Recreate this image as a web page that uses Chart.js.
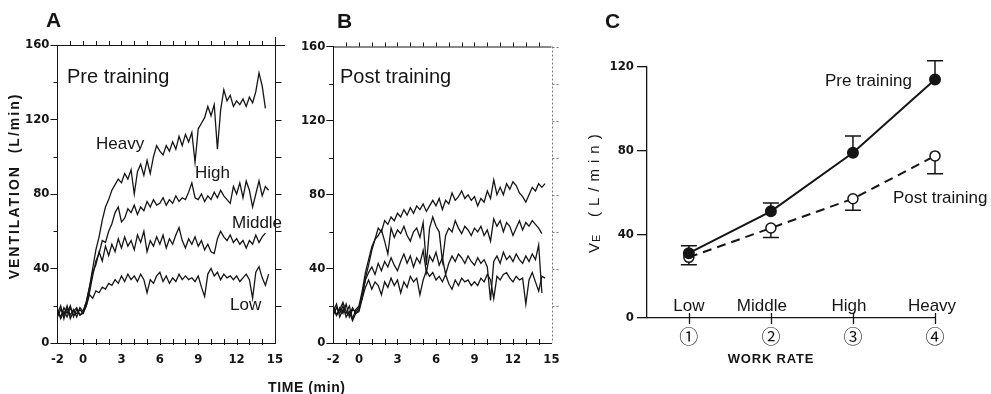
<!DOCTYPE html>
<html><head><meta charset="utf-8">
<script src="https://cdn.jsdelivr.net/npm/chart.js@4.4.1/dist/chart.umd.min.js"></script>
<style>
html,body{margin:0;padding:0;background:#fff;}
#wrap{position:relative;width:991px;height:394px;overflow:hidden;background:#fff;}
canvas{position:absolute;left:0;top:0;}
</style></head><body>
<div id="wrap">
<canvas id="cA" width="991" height="394" style="width:991px;height:394px"></canvas>
<canvas id="cB" width="991" height="394" style="width:991px;height:394px"></canvas>
<canvas id="cC" width="991" height="394" style="width:991px;height:394px"></canvas>
</div>
<script>
// ---------- DATA ----------
const timeMin = [-2,-1.75,-1.5,-1.25,-1,-0.75,-0.5,-0.25,0,0.25,0.5,0.75,
  1,1.25,1.5,1.75,2,2.25,2.5,2.75,3,3.25,3.5,3.75,
  4,4.25,4.5,4.75,5,5.25,5.5,5.75,6,6.25,6.5,6.75,
  7,7.25,7.5,7.75,8,8.25,8.5,8.75,9,9.25,9.5,9.75,
  10,10.25,10.5,10.75,11,11.25,11.5,11.75,12,12.25,12.5,12.75,
  13,13.25,13.5,13.75,14,14.25,14.5];
const timeTickLabels = [-2,0,3,6,9,12,15];
const ventTickLabels = [0,40,80,120,160];

// Panel A: pre training
const preHeavy = [16,20,13,19,15,18,14,19,17,22,30,40,
  50,57,66,73,77,82,85,88,86,91,88,93,
  80,92,96,90,98,91,100,106,103,101,106,103,
  108,104,111,106,112,108,113,97,115,118,121,127,
  122,128,104,125,136,130,133,127,130,128,131,127,
  132,129,135,145,138,126,null];
const preHigh = [17,14,19,16,20,14,18,15,16,20,27,36,
  44,48,55,54,60,64,70,73,65,67,72,70,
  74,69,73,71,76,73,77,74,75,78,74,77,
  75,79,76,78,77,81,86,78,77,80,76,79,
  77,81,78,82,79,77,75,84,80,86,78,87,
  82,73,80,87,79,84,82];
const preMiddle = [14,18,15,20,13,17,19,15,17,22,30,38,
  42,49,44,52,47,53,49,56,51,57,52,55,
  50,58,54,60,49,55,52,57,53,58,51,56,
  53,58,62,55,51,56,53,57,52,55,50,53,
  49,48,56,60,57,55,58,54,56,53,55,51,
  55,53,58,54,57,59,null];
const preLow = [18,13,17,14,19,15,16,18,16,20,26,24,
  28,27,30,29,32,31,34,32,36,33,37,34,
  36,33,37,34,27,34,32,36,38,33,36,32,
  35,33,37,34,36,34,35,33,36,30,25,37,
  40,36,38,34,37,35,36,34,36,33,35,37,
  34,24,38,41,35,31,37];

// Panel B: post training
const postHeavy = [20,15,19,16,21,14,18,17,19,24,35,42,
  50,56,62,60,66,64,68,66,70,68,72,69,
  73,70,74,72,75,71,74,77,74,78,72,77,
  75,81,77,79,82,78,80,77,79,74,78,76,
  82,78,88,80,84,80,86,83,87,85,81,79,
  76,80,84,82,86,84,86];
const postHigh = [17,21,14,18,16,20,13,18,20,28,38,45,
  52,56,58,61,55,48,62,57,61,59,63,58,
  55,60,62,57,65,42,62,68,63,60,44,58,
  62,60,66,62,59,63,61,58,62,60,63,58,
  61,55,67,63,66,60,65,63,58,62,66,61,
  65,63,66,64,62,59,null];
const postMiddle = [15,19,16,20,14,17,12,16,18,26,34,38,
  41,37,43,39,44,41,46,42,39,44,48,43,
  47,41,46,43,50,38,47,44,49,42,46,37,
  43,47,44,48,46,43,47,44,42,46,43,45,
  41,23,44,47,43,49,45,47,44,48,45,43,
  47,44,48,45,53,27,null];
const postLow = [19,15,18,22,17,15,19,16,17,24,30,34,
  29,33,31,26,33,30,35,31,34,27,33,30,
  36,33,35,26,34,39,36,38,34,36,33,37,
  32,29,34,31,35,33,34,31,33,31,35,33,
  37,34,24,36,34,37,38,35,33,36,34,35,
  21,34,38,33,28,36,35];

// Panel C: mean VE by work rate
const workRateNames = ['Low','Middle','High','Heavy'];
const workRateIds = [1,2,3,4];
const workRateMarks = ['\u2460','\u2461','\u2462','\u2463'];
const veTickLabels = [0,40,80,120];
const vePre = [31,51,79,114];
const vePreErrTop = [34.5,55,87,123];
const vePost = [29,43,57,77.5];
const vePostErrBottom = [25.5,38.5,51.5,69];

// ---------- STYLE ----------
const INK = '#151515';
const SANS = "'Liberation Sans', Arial, sans-serif";
const NARROW = "'Liberation Sans Narrow', 'DejaVu Sans Condensed', 'Liberation Sans', sans-serif";
const tickFont = {family: NARROW, size: 13, weight: 'bold'};

function traces(series) {
  return series.map(vals => ({
    data: timeMin.map((t, i) => ({x: t, y: vals[i]})).filter(p => p.y !== null),
    borderColor: INK, borderWidth: 1.3, pointRadius: 0, fill: false, tension: 0
  }));
}

const frame = {
  id: 'frame',
  afterDraw(chart, args, o) {
    const {ctx, chartArea: a, scales: {x, y}} = chart;
    ctx.save();
    ctx.strokeStyle = INK; ctx.lineWidth = 1;
    ctx.beginPath();
    ctx.moveTo(a.left, a.top + 0.5); ctx.lineTo(a.right + o.topExtend, a.top + 0.5);
    for (let t = x.min + 1; t < x.max; t++) {
      const px = Math.round(x.getPixelForValue(t)) + 0.5;
      ctx.moveTo(px, a.top); ctx.lineTo(px, a.top - 4);
      ctx.moveTo(px, a.bottom - 4); ctx.lineTo(px, a.bottom + 2);
    }
    for (let v = 20; v < 160; v += 40) {
      const py = Math.round(y.getPixelForValue(v)) + 0.5;
      ctx.moveTo(a.left, py); ctx.lineTo(a.left - 4, py);
    }
    ctx.stroke();
    ctx.beginPath();
    if (o.rightDash) { ctx.setLineDash([2, 2]); ctx.strokeStyle = '#777'; }
    const rx = Math.round(a.right) + 0.5;
    ctx.moveTo(rx, a.top - o.rightUp); ctx.lineTo(rx, a.bottom);
    for (let v = 20; v <= 160; v += 20) {
      const py = Math.round(y.getPixelForValue(v)) + 0.5;
      ctx.moveTo(rx, py); ctx.lineTo(rx + 6, py);
    }
    ctx.stroke();
    ctx.restore();
  }
};

function traceChart(id, series, pad, o) {
  return new Chart(document.getElementById(id), {
    type: 'line',
    data: {datasets: traces(series)},
    options: {
      responsive: false, animation: false, devicePixelRatio: 1,
      layout: {padding: pad},
      plugins: {legend: {display: false}, tooltip: {enabled: false}, frame: o},
      scales: {
        x: {
          type: 'linear', min: -2, max: 15,
          afterBuildTicks: s => { s.ticks = timeTickLabels.map(v => ({value: v})); },
          afterFit: s => { s.height = 30; },
          ticks: {font: tickFont, color: INK, padding: 9, maxRotation: 0, autoSkip: false},
          grid: {drawOnChartArea: false, drawTicks: false},
          border: {display: true, color: INK, width: 1}
        },
        y: {
          min: 0, max: 160,
          afterBuildTicks: s => { s.ticks = ventTickLabels.map(v => ({value: v})); },
          afterFit: s => { s.width = 40; },
          ticks: {font: tickFont, color: INK, padding: 1},
          grid: {drawOnChartArea: false, drawTicks: true, tickLength: 7, color: INK},
          border: {display: true, color: INK, width: 1}
        }
      }
    },
    plugins: [frame]
  });
}

traceChart('cA', [preHeavy, preHigh, preMiddle, preLow],
  {left: 17.5, right: 716, top: 45, bottom: 21}, {topExtend: 10, rightUp: 8, rightDash: false});
traceChart('cB', [postHeavy, postHigh, postMiddle, postLow],
  {left: 293.3, right: 439.5, top: 46.5, bottom: 21}, {topExtend: 0, rightUp: 0, rightDash: true});

// ---------- Panel C ----------
const errBars = {
  id: 'errBars',
  beforeDatasetsDraw(chart) {
    const {ctx, scales: {x, y}} = chart;
    ctx.save(); ctx.strokeStyle = INK; ctx.lineWidth = 1.5;
    ctx.beginPath();
    workRateIds.forEach((w, i) => {
      const px = x.getPixelForValue(w);
      const a = y.getPixelForValue(vePre[i]), b = y.getPixelForValue(vePreErrTop[i]);
      ctx.moveTo(px, a); ctx.lineTo(px, b); ctx.moveTo(px - 8, b); ctx.lineTo(px + 8, b);
      const c = y.getPixelForValue(vePost[i]), d = y.getPixelForValue(vePostErrBottom[i]);
      ctx.moveTo(px, c); ctx.lineTo(px, d); ctx.moveTo(px - 8, d); ctx.lineTo(px + 8, d);
    });
    ctx.stroke(); ctx.restore();
  },
  afterDraw(chart) {
    const {ctx, chartArea: a, scales: {x}} = chart;
    ctx.save(); ctx.strokeStyle = INK; ctx.lineWidth = 1.3;
    ctx.beginPath();
    workRateIds.forEach(w => {
      const px = Math.round(x.getPixelForValue(w)) + 0.5;
      ctx.moveTo(px, a.bottom - 5); ctx.lineTo(px, a.bottom + 6);
    });
    ctx.stroke();
    ctx.fillStyle = INK; ctx.font = '17px ' + SANS; ctx.textAlign = 'center'; ctx.textBaseline = 'alphabetic';
    const nudge = [0, -9, -4, -3];
    workRateIds.forEach((w, i) => ctx.fillText(workRateNames[i], x.getPixelForValue(w) + nudge[i], a.bottom - 7));
    ctx.restore();
  }
};

function rotText(ctx, txt, cx, cy, font, spacing) {
  ctx.save(); ctx.translate(cx, cy); ctx.rotate(-Math.PI / 2);
  ctx.font = font; ctx.letterSpacing = spacing + 'px';
  ctx.textAlign = 'center'; ctx.textBaseline = 'middle';
  ctx.fillText(txt, spacing / 2, 0); ctx.restore();
}

const annotations = {
  id: 'annotations',
  afterDraw(chart) {
    const ctx = chart.ctx;
    ctx.save(); ctx.fillStyle = INK; ctx.textBaseline = 'alphabetic'; ctx.textAlign = 'left';
    ctx.font = 'bold 21px ' + SANS;
    ctx.fillText('A', 46, 27); ctx.fillText('B', 337, 28); ctx.fillText('C', 605, 28);
    ctx.font = '20px ' + SANS;
    ctx.fillText('Pre training', 67, 83);
    ctx.fillText('Post training', 340, 83);
    ctx.font = '17px ' + SANS;
    ctx.fillText('Heavy', 96, 149);
    ctx.fillText('High', 195, 178);
    ctx.fillText('Middle', 232, 228);
    ctx.fillText('Low', 230, 310);
    ctx.fillText('Pre training', 825, 86);
    ctx.fillText('Post training', 893, 203);
    ctx.font = 'bold 14px ' + SANS; ctx.letterSpacing = '0.6px';
    ctx.fillText('TIME (min)', 268, 392);
    ctx.font = 'bold 13px ' + SANS; ctx.letterSpacing = '0.8px'; ctx.textAlign = 'center';
    ctx.fillText('WORK RATE', 771, 363);
    ctx.letterSpacing = '0px';
    ctx.restore();
    rotText(ctx, 'VENTILATION  (L/min)', 15, 187, 'bold 14px ' + SANS, 2);
    ctx.save(); ctx.translate(595, 253); ctx.rotate(-Math.PI / 2);
    ctx.fillStyle = INK; ctx.textBaseline = 'middle'; ctx.textAlign = 'left';
    ctx.font = '15px ' + SANS; ctx.fillText('V', 0, 0);
    ctx.font = '11px ' + SANS; ctx.fillText('E', 11, 2);
    ctx.font = '15px ' + SANS; ctx.letterSpacing = '6px'; ctx.fillText('(L/min)', 36, 0);
    ctx.restore();
  }
};

new Chart(document.getElementById('cC'), {
  type: 'line',
  data: {
    datasets: [
      {label: 'Pre training', data: workRateIds.map((w, i) => ({x: w, y: vePre[i]})), clip: false,
       borderColor: INK, borderWidth: 2, pointRadius: 5, pointBackgroundColor: INK, pointBorderColor: INK, tension: 0},
      {label: 'Post training', data: workRateIds.map((w, i) => ({x: w, y: vePost[i]})), clip: false,
       borderColor: INK, borderWidth: 2, borderDash: [9, 6], pointRadius: 5, pointBackgroundColor: '#fff',
       pointBorderColor: INK, pointBorderWidth: 1.5, tension: 0}
    ]
  },
  options: {
    responsive: false, animation: false, devicePixelRatio: 1,
    layout: {padding: {left: 602, right: 56, top: 67, bottom: 36}},
    plugins: {legend: {display: false}, tooltip: {enabled: false}},
    scales: {
      x: {
        type: 'linear', min: 0.49, max: 4,
        afterBuildTicks: s => { s.ticks = workRateIds.map(v => ({value: v})); },
        afterFit: s => { s.height = 40; },
        ticks: {font: {family: "'Noto Sans CJK JP', 'DejaVu Sans', sans-serif", size: 19}, color: INK, padding: 7,
                maxRotation: 0, autoSkip: false, callback: (v) => workRateMarks[workRateIds.indexOf(v)]},
        grid: {drawOnChartArea: false, drawTicks: false},
        border: {display: true, color: INK, width: 1.3}
      },
      y: {
        min: 0, max: 120,
        afterBuildTicks: s => { s.ticks = veTickLabels.map(v => ({value: v})); },
        afterFit: s => { s.width = 45; },
        ticks: {font: {family: NARROW, size: 13, weight: 'bold'}, color: INK, padding: 3},
        grid: {drawOnChartArea: false, drawTicks: true, tickLength: 10, color: INK, lineWidth: 1.3},
        border: {display: true, color: INK, width: 1.3}
      }
    }
  },
  plugins: [errBars, annotations]
});
</script>
</body></html>
